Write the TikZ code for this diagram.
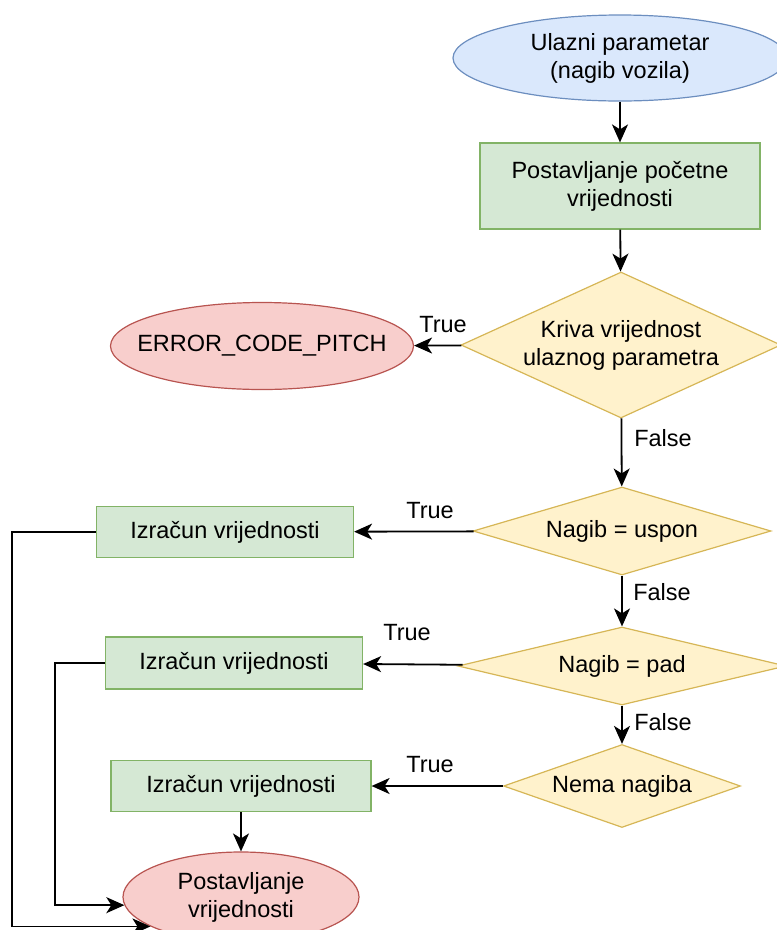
\documentclass[tikz,border=0pt]{standalone}
\usepackage{fontspec}
\setmainfont{Liberation Sans}
\usetikzlibrary{shapes.geometric,arrows.meta}
\definecolor{bluef}{HTML}{DAE8FC}\definecolor{blued}{HTML}{6C8EBF}
\definecolor{greenf}{HTML}{D5E8D4}\definecolor{greend}{HTML}{82B366}
\definecolor{yellowf}{HTML}{FFF2CC}\definecolor{yellowd}{HTML}{D6B656}
\definecolor{redf}{HTML}{F8CECC}\definecolor{redd}{HTML}{B85450}
\tikzset{
  base/.style={font=\fontsize{23.5}{28}\selectfont, align=center, line width=1.2pt, inner sep=0pt},
  startel/.style={base, ellipse, draw=blued, fill=bluef},
  endel/.style={base, ellipse, draw=redd, fill=redf},
  procbox/.style={base, rectangle, draw=greend, fill=greenf},
  decis/.style={base, diamond, draw=yellowd, fill=yellowf},
  conn/.style={line width=1.8pt, -{Stealth[length=18pt,width=16pt,inset=5pt]}},
  lbl/.style={font=\fontsize{23.5}{28}\selectfont, inner sep=0pt, align=center},
}
\begin{document}
\begin{tikzpicture}[x=1pt,y=-1pt]
\useasboundingbox (0,0) rectangle (777,930);
\node[startel, minimum width=334pt, minimum height=86pt] (in) at (620,58) {Ulazni parametar\\(nagib vozila)};
\node[procbox, minimum width=280pt, minimum height=86pt] (init) at (620,186) {Postavljanje početne\\vrijednosti};
\node[decis, aspect=2.19, minimum width=320pt, minimum height=146pt] (d1) at (621,345) {Kriva vrijednost\\ulaznog parametra};
\node[endel, minimum width=303pt, minimum height=87pt, label={[lbl]center:ERROR\_CODE\_PITCH}] (err) at (262,346) {};
\node[decis, aspect=3.39, minimum width=298pt, minimum height=88pt] (d2) at (622,531) {Nagib = uspon};
\node[procbox, minimum width=257pt, minimum height=51pt] (b1) at (225,532) {Izračun vrijednosti};
\node[decis, aspect=4.2, minimum width=328pt, minimum height=78pt] (d3) at (622,666) {Nagib = pad};
\node[procbox, minimum width=257pt, minimum height=52pt] (b2) at (234,663) {Izračun vrijednosti};
\node[decis, aspect=2.86, minimum width=237pt, minimum height=83pt] (d4) at (622,786) {Nema nagiba};
\node[procbox, minimum width=260pt, minimum height=51pt] (b3) at (241,786) {Izračun vrijednosti};
\node[endel, minimum width=236pt, minimum height=90pt, label={[lbl]center:Postavljanje\\vrijednosti}] (out) at (241,897) {};

\draw[conn] (in) -- (init);
\draw[conn] (init) -- (d1);
\draw[conn] (d1) -- (err);
\draw[conn] (d1) -- (d2);
\draw[conn] (d2) -- (b1);
\draw[conn] (d2) -- (d3);
\draw[conn] (d3) -- (b2);
\draw[conn] (d3) -- (d4);
\draw[conn] (d4) -- (b3);
\draw[conn] (b3) -- (out);
\coordinate (c1) at (12,532);
\coordinate (c2) at (55,663);
\draw[conn] (b1.west) -- (c1) |- (out.198);
\draw[conn] (b2.west) -- (c2) |- (out.184);

\node[lbl] (t1) at (443,325) {True};
\node[lbl] (t2) at (430,511) {True};
\node[lbl] (t3) at (407,633) {True};
\node[lbl] (t4) at (430,765) {True};
\node[lbl] (f1) at (663,438) {False};
\node[lbl] (f2) at (662,592) {False};
\node[lbl] (f3) at (663,722) {False};
\end{tikzpicture}
\end{document}
